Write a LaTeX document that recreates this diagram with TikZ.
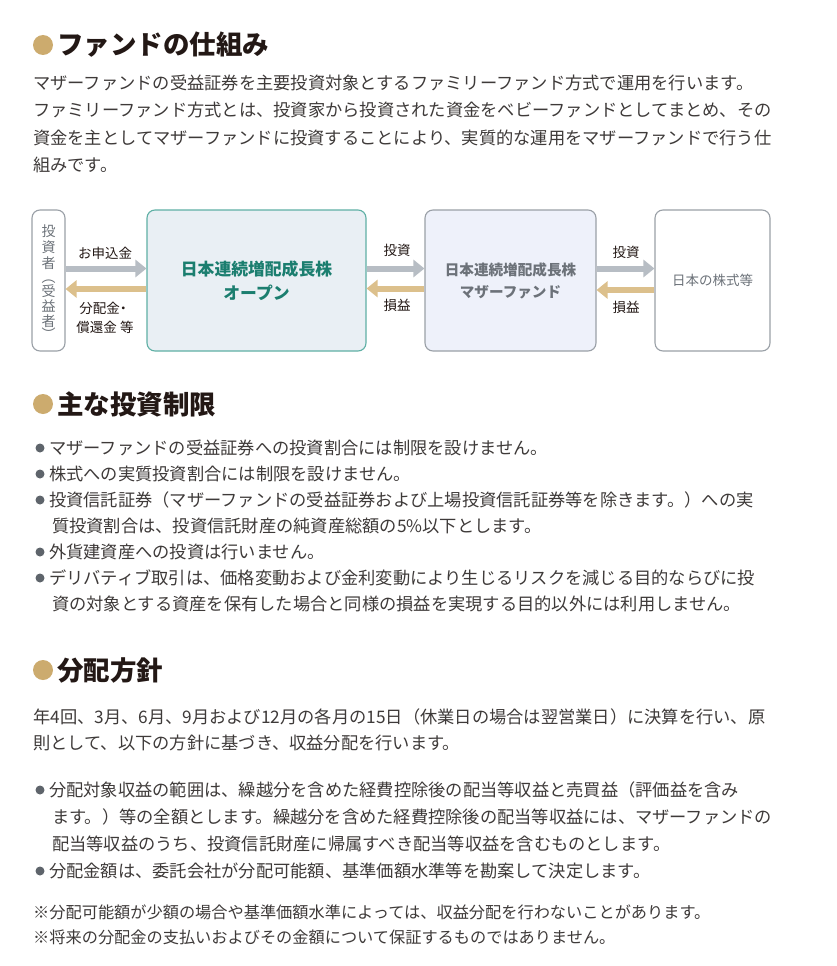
\documentclass[tikz,border=0pt]{standalone}
\usepackage{fontspec}
\setmainfont{Noto Sans CJK JP}
\newfontfamily\jpp{Noto Sans CJK JP}[RawFeature={+palt}]
\usetikzlibrary{arrows.meta}
\definecolor{gold}{HTML}{CCAB6E}
\definecolor{headc}{HTML}{231815}
\definecolor{bodyc}{HTML}{3E3A39}
\definecolor{bulc}{HTML}{5E646B}
\definecolor{arrg}{HTML}{B7BDC4}
\definecolor{arry}{HTML}{DCC08C}
\definecolor{boxg}{HTML}{9AA0A7}
\definecolor{teal}{HTML}{5FB0A5}
\definecolor{tealtxt}{HTML}{1B7E6F}
\definecolor{fillb}{HTML}{E9EFF4}
\definecolor{fillc}{HTML}{EEF1FA}
\definecolor{greytxt}{HTML}{6C7279}
\begin{document}
\begin{tikzpicture}[x=1pt,y=-1pt,
  head/.style={anchor=west,inner sep=0pt,text=headc,font=\fontsize{26.5}{26.5}\selectfont\bfseries},
  body/.style={anchor=west,inner sep=0pt,text=bodyc,font=\fontsize{17.25}{17.25}\selectfont},
  note/.style={anchor=west,inner sep=0pt,text=bodyc,font=\fontsize{16.2}{16.2}\selectfont},
  hdot/.style={circle,fill=gold,minimum size=20pt,inner sep=0pt},
  bdot/.style={circle,fill=bulc,minimum size=9pt,inner sep=0pt},
  fbox/.style={draw,rounded corners=8pt,line width=1.1pt,minimum height=141pt,inner sep=0pt},
  lbl/.style={inner sep=0pt,text=headc,font=\fontsize{13.5}{13.5}\selectfont},
  vch/.style={inner sep=0pt,text=greytxt,text height=10.5pt,text depth=1.5pt,font=\fontsize{14}{14}\selectfont},
  garrow/.style={draw=arrg,line width=6pt,-{Triangle[length=11pt,width=17pt]}},
  yarrow/.style={draw=arry,line width=6pt,-{Triangle[length=11pt,width=17pt]}}
]
\useasboundingbox[fill=white] (0,0) rectangle (836,966);

% ---- heading 1
\node[hdot] (h1d) at (43,45) {};
\node[head] (h1) at (57,45) {ファンドの仕組み};
\node[body] (p1) at (33,83) {マザーファンドの受益証券を主要投資対象とするファミリーファンド方式で運用を行います。};
\node[body] (p2) at (33,110) {ファミリーファンド方式とは、投資家から投資された資金をベビーファンドとしてまとめ、その};
\node[body] (p3) at (33,138) {資金を主としてマザーファンドに投資することにより、実質的な運用をマザーファンドで行う仕};
\node[body] (p4) at (33,165) {組みです。};

% ---- diagram
\node[fbox,draw=boxg,fill=white,minimum width=33pt] (inv) at (48.5,280.5) {};
\foreach \c/\yy [count=\i] in {投/232,資/248,者/264,︵/278,受/292,益/307,者/322,︶/335}
  \node[vch] (v\i) at (48.5,\yy) {\c};
\node[fbox,draw=teal,fill=fillb,minimum width=219pt,align=center,text=tealtxt,
  font=\fontsize{16.8}{24}\selectfont\bfseries] (fund) at (256.5,280.5) {日本連続増配成長株\\オープン};
\node[fbox,draw=boxg,fill=fillc,minimum width=171pt,align=center,text=greytxt,
  font=\fontsize{14.6}{22}\selectfont\bfseries] (mother) at (510.5,280.5) {日本連続増配成長株\\マザーファンド};
\node[fbox,draw=boxg,fill=white,minimum width=115pt,text=greytxt,
  font=\fontsize{13.5}{13.5}\selectfont] (stock) at (712.5,280.5) {日本の株式等};

\draw[garrow] ([yshift=12pt]inv.east) -- ([yshift=12pt]fund.west);
\draw[yarrow] ([yshift=-8.5pt]fund.west) -- ([yshift=-8.5pt]inv.east);
\draw[garrow] ([yshift=12pt]fund.east) -- ([yshift=12pt]mother.west);
\draw[yarrow] ([yshift=-8pt]mother.west) -- ([yshift=-8pt]fund.east);
\draw[garrow] ([yshift=12pt]mother.east) -- ([yshift=12pt]stock.west);
\draw[yarrow] ([yshift=-9.5pt]stock.west) -- ([yshift=-9.5pt]mother.east);

\node[lbl] (l1) at (105,253) {お申込金};
\node[lbl] (l2) at (103,308) {分配金{\jpp ・}};
\node[lbl] (l3) at (105,327) {償還金 等};
\node[lbl] (l4) at (397,250) {投資};
\node[lbl] (l5) at (397,305) {損益};
\node[lbl] (l6) at (626,252) {投資};
\node[lbl] (l7) at (626,307) {損益};

% ---- heading 2
\node[hdot] (h2d) at (43,404) {};
\node[head] (h2) at (57,404) {主な投資制限};
\node[bdot] (b1) at (40,448) {};
\node[body] (q1) at (49,448) {マザーファンドの受益証券への投資割合には制限を設けません。};
\node[bdot] (b2) at (40,474) {};
\node[body] (q2) at (49,474) {株式への実質投資割合には制限を設けません。};
\node[bdot] (b3) at (40,500) {};
\node[body] (q3) at (49,500) {投資信託証券（マザーファンドの受益証券および上場投資信託証券等を除きます。）への実};
\node[body] (q3b) at (52,526) {質投資割合は、投資信託財産の純資産総額の5\%以下とします。};
\node[bdot] (b4) at (40,552) {};
\node[body] (q4) at (49,552) {外貨建資産への投資は行いません。};
\node[bdot] (b5) at (40,578) {};
\node[body] (q5) at (49,578) {デリバティブ取引は、価格変動および金利変動により生じるリスクを減じる目的ならびに投};
\node[body] (q5b) at (52,604) {資の対象とする資産を保有した場合と同様の損益を実現する目的以外には利用しません。};

% ---- heading 3
\node[hdot] (h3d) at (43,670) {};
\node[head] (h3) at (57,670) {分配方針};
\node[body] (r1) at (33,717) {年4回、3月、6月、9月および12月の各月の15日（休業日の場合は翌営業日）に決算を行い、原};
\node[body] (r2) at (33,743) {則として、以下の方針に基づき、収益分配を行います。};
\node[bdot] (c1) at (40,790) {};
\node[body] (s1) at (49,790) {分配対象収益の範囲は、繰越分を含めた経費控除後の配当等収益と売買益（評価益を含み};
\node[body] (s1b) at (52,817) {ます。）等の全額とします。繰越分を含めた経費控除後の配当等収益には、マザーファンドの};
\node[body] (s1c) at (52,844) {配当等収益のうち、投資信託財産に帰属すべき配当等収益を含むものとします。};
\node[bdot] (c2) at (40,871) {};
\node[body] (s2) at (49,871) {分配金額は、委託会社が分配可能額、基準価額水準等を勘案して決定します。};
\node[note] (n1) at (33,912) {※分配可能額が少額の場合や基準価額水準によっては、収益分配を行わないことがあります。};
\node[note] (n2) at (33,937) {※将来の分配金の支払いおよびその金額について保証するものではありません。};
\end{tikzpicture}
\end{document}
